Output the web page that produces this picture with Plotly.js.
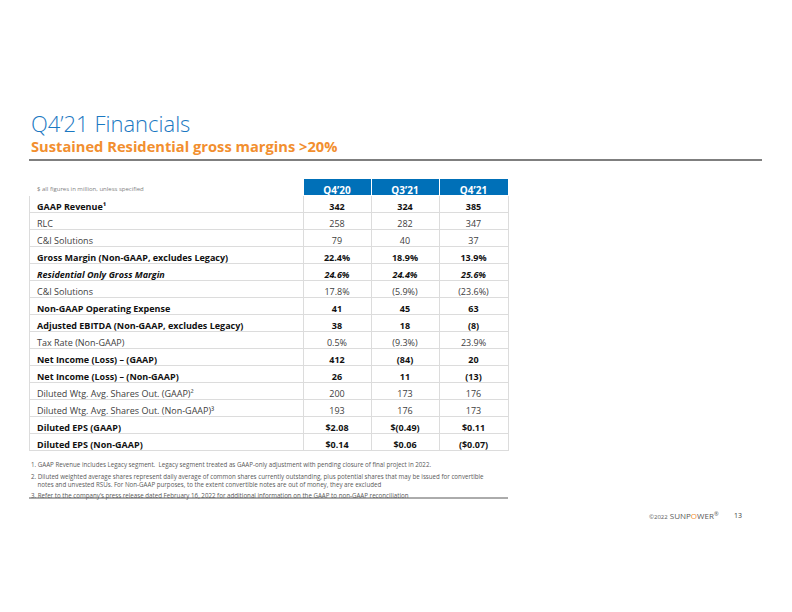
<!DOCTYPE html>
<html>
<head>
<meta charset="utf-8">
<script src="https://cdn.plot.ly/plotly-3.0.1.min.js"></script>
<style>html,body{margin:0;padding:0;background:#fff;}#chart{width:792px;height:612px;}</style>
</head>
<body>
<div id="chart"></div>
<script>
// ---- data ----
var periods = ["Q4\u201920", "Q3\u201921", "Q4\u201921"];
var unitNote = "$ all figures in million, unless specified";
var rowLabels = [
  "GAAP Revenue\u00b9",
  "RLC",
  "C&I Solutions",
  "Gross Margin (Non-GAAP, excludes Legacy)",
  "Residential Only Gross Margin",
  "C&I Solutions",
  "Non-GAAP Operating Expense",
  "Adjusted EBITDA (Non-GAAP, excludes Legacy)",
  "Tax Rate (Non-GAAP)",
  "Net Income (Loss) \u2013 (GAAP)",
  "Net Income (Loss) \u2013 (Non-GAAP)",
  "Diluted Wtg. Avg. Shares Out. (GAAP)\u00b2",
  "Diluted Wtg. Avg. Shares Out. (Non-GAAP)\u00b3",
  "Diluted EPS (GAAP)",
  "Diluted EPS (Non-GAAP)"
];
var q420 = ["342","258","79","22.4%","24.6%","17.8%","41","38","0.5%","412","26","200","193","$2.08","$0.14"];
var q321 = ["324","282","40","18.9%","24.4%","(5.9%)","45","18","(9.3%)","(84)","11","173","176","$(0.49)","$0.06"];
var q421 = ["385","347","37","13.9%","25.6%","(23.6%)","63","(8)","23.9%","20","(13)","176","173","$0.11","($0.07)"];
var footnotes = [
  "1. GAAP Revenue includes Legacy segment.  Legacy segment treated as GAAP-only adjustment with pending closure of final project in 2022.",
  "2. Diluted weighted average shares represent daily average of common shares currently outstanding, plus potential shares that may be issued for convertible",
  "    notes and unvested RSUs. For Non-GAAP purposes, to the extent convertible notes are out of money, they are excluded",
  "3. Refer to the company\u2019s press release dated February 16, 2022 for additional information on the GAAP to non-GAAP reconciliation"
];
var titleText = "Q4\u201921 Financials";
var subtitleText = "Sustained Residential gross margins >20%";
var pageNum = "13";

// ---- styles (b = bold, n = normal, bi = bold italic) ----
var rowStyle = ["b","n","n","b","bi","n","b","b","n","b","b","n","n","b","b"];

var rowWeight = rowStyle.map(function (s) { return s === "n" ? "normal" : "bold"; });
var rowFStyle = rowStyle.map(function (s) { return s === "bi" ? "italic" : "normal"; });
var rowColor = rowStyle.map(function (s) { return s === "n" ? "#404040" : "#111111"; });

// Plotly's table treats "&" in a cell value as markup (which makes the row taller),
// so text up to and including "&" goes in the cell prefix; the rest uses no-break spaces
// so that the table's word-wrapping pass is not triggered.
var labelPrefix = rowLabels.map(function (s) { var k = s.indexOf("&"); return k < 0 ? "" : s.slice(0, k + 1); });
var labelRest = rowLabels.map(function (s) {
  var k = s.indexOf("&");
  return k < 0 ? s : s.slice(k + 1).replace(/ /g, "\u00a0");
});
var emptyCol = rowLabels.map(function () { return ""; });

var W = 792, H = 612;
var tLeft = 29, tRight = 509, tTop = 178;

var trace = {
  type: "table",
  domain: { x: [tLeft / W, tRight / W], y: [0.05, 1 - tTop / H] },
  columnwidth: [274, 68, 68, 69],
  header: {
    values: [unitNote].concat(periods),
    align: ["left", "center", "center", "center"],
    height: 17,
    fill: { color: ["#ffffff", "#0070b8", "#0070b8", "#0070b8"] },
    line: { color: ["#ffffff", "#ffffff", "#ffffff", "#ffffff"], width: 1 },
    font: { family: "Open Sans", size: [6, 10, 10, 10], weight: ["normal", "bold", "bold", "bold"],
            color: ["#7f7f7f", "#ffffff", "#ffffff", "#ffffff"] }
  },
  cells: {
    values: [labelRest, q420, q321, q421],
    prefix: [labelPrefix, emptyCol, emptyCol, emptyCol],
    align: ["left", "center", "center", "center"],
    height: 17,
    fill: { color: "#ffffff" },
    line: { color: "#dcdcdc", width: 1 },
    font: { family: "Open Sans", size: 9,
            color: [rowColor, rowColor, rowColor, rowColor],
            weight: [rowWeight, rowWeight, rowWeight, rowWeight],
            style: [rowFStyle, rowFStyle, rowFStyle, rowFStyle] }
  }
};

function note(txt, ypx) {
  return { text: txt, x: tLeft / W, y: 1 - ypx / H, xref: "paper", yref: "paper", xanchor: "left", yanchor: "middle",
    showarrow: false, align: "left", font: { family: "Open Sans", size: 6.2, color: "#595959" } };
}

var annotations = [
  { text: titleText, x: tLeft / W, y: 1 - 140 / H, xref: "paper", yref: "paper", xanchor: "left", yanchor: "bottom",
    showarrow: false, font: { family: "Open Sans", size: 22, weight: 300, color: "#1a78c2" } },
  { text: subtitleText, x: tLeft / W, y: 1 - 158 / H, xref: "paper", yref: "paper", xanchor: "left", yanchor: "bottom",
    showarrow: false, font: { family: "Open Sans", size: 14.7, weight: "bold", color: "#f28f2f" } },
  note(footnotes[0], 464),
  note(footnotes[1], 476),
  note(footnotes[2], 484),
  note(footnotes[3], 495),
  { text: "<span style='font-size:6px'>\u00a92022</span> SUNP<span style='color:#f28f2f'>O</span>WER<sup style='font-size:4px'>\u00ae</sup>",
    x: 647 / W, y: 1 - 515 / H, xref: "paper", yref: "paper", xanchor: "left", yanchor: "middle",
    showarrow: false, font: { family: "Open Sans", size: 8, color: "#595959" } },
  { text: pageNum, x: 732 / W, y: 1 - 515 / H, xref: "paper", yref: "paper", xanchor: "left", yanchor: "middle",
    showarrow: false, font: { family: "Open Sans", size: 7, color: "#404040" } }
];

var shapes = [
  { type: "line", xref: "paper", yref: "paper", x0: 29 / W, x1: 762 / W, y0: 1 - 160 / H, y1: 1 - 160 / H,
    line: { color: "#7f7f7f", width: 2 } },
  { type: "line", xref: "paper", yref: "paper", x0: 29 / W, x1: 508 / W, y0: 1 - 498 / H, y1: 1 - 498 / H,
    line: { color: "#595959", width: 1 } }
];

var layout = {
  width: W, height: H,
  margin: { l: 0, r: 0, t: 0, b: 0 },
  paper_bgcolor: "#ffffff",
  annotations: annotations,
  shapes: shapes,
  showlegend: false
};

Plotly.newPlot("chart", [trace], layout, { displayModeBar: false, staticPlot: true });
</script>
</body>
</html>
